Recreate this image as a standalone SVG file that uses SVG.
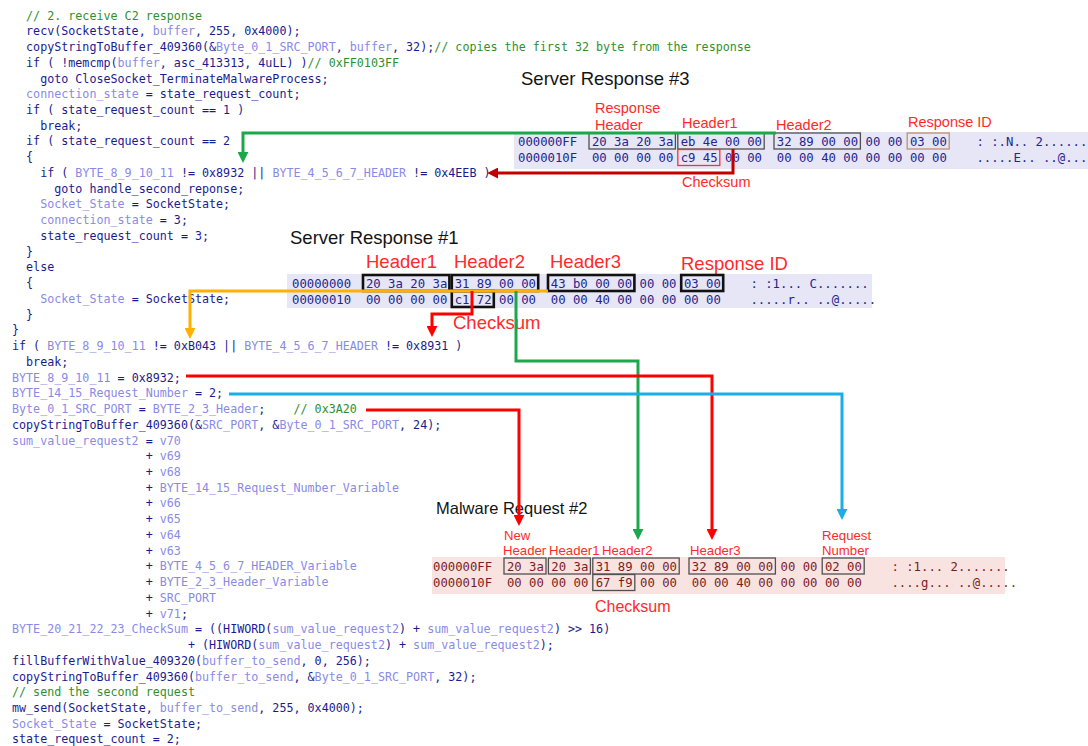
<svg xmlns="http://www.w3.org/2000/svg" width="1088" height="746" viewBox="0 0 1088 746">
<style>
  .code { font-family: "DejaVu Sans Mono", "Liberation Mono", monospace; font-size: 11.7px; fill: #1b1b8f; white-space: pre; }
  .v { fill: #8a8ae6; }
  .c { fill: #2f8f2f; }
  .hex { font-family: "DejaVu Sans Mono", "Liberation Mono", monospace; font-size: 12.29px; white-space: pre; }
  .hb { fill: #25258c; }
  .hm { fill: #7d1c1c; }
  .title { font-family: "Liberation Sans", Arial, sans-serif; fill: #141414; }
  .lbl { font-family: "Liberation Sans", Arial, sans-serif; fill: #ff2a2a; }
  .band-b { fill: #e6e6f6; }
  .band-m { fill: #f8e3e1; }
  .box-g { fill: none; stroke: #505050; stroke-width: 1.3; }
  .box-k { fill: none; stroke: #111111; stroke-width: 2.6; }
  .conn { fill: none; stroke-width: 3; }
</style>
<defs>
  <marker id="ah-green" viewBox="0 0 10 10" refX="1" refY="5" markerWidth="11" markerHeight="11" markerUnits="userSpaceOnUse" orient="auto"><path d="M0,0 L10,5 L0,10 z" fill="#1ca84a"/></marker>
  <marker id="ah-darkred" viewBox="0 0 10 10" refX="1" refY="5" markerWidth="11" markerHeight="11" markerUnits="userSpaceOnUse" orient="auto"><path d="M0,0 L10,5 L0,10 z" fill="#c00000"/></marker>
  <marker id="ah-orange" viewBox="0 0 10 10" refX="1" refY="5" markerWidth="11" markerHeight="11" markerUnits="userSpaceOnUse" orient="auto"><path d="M0,0 L10,5 L0,10 z" fill="#ffb000"/></marker>
  <marker id="ah-red" viewBox="0 0 10 10" refX="1" refY="5" markerWidth="11" markerHeight="11" markerUnits="userSpaceOnUse" orient="auto"><path d="M0,0 L10,5 L0,10 z" fill="#ff0000"/></marker>
  <marker id="ah-blue" viewBox="0 0 10 10" refX="1" refY="5" markerWidth="11" markerHeight="11" markerUnits="userSpaceOnUse" orient="auto"><path d="M0,0 L10,5 L0,10 z" fill="#1aaee6"/></marker>
</defs>
<rect width="1088" height="746" fill="#ffffff"/>

<!-- decompiled code listing -->
<g id="code" xml:space="preserve">
<text class="code" x="12" y="19.5">  <tspan class="c">// 2. receive C2 response</tspan></text>
<text class="code" x="12" y="35.2">  recv(SocketState, <tspan class="v">buffer</tspan>, 255, 0x4000);</text>
<text class="code" x="12" y="51">  copyStringToBuffer_409360(&amp;<tspan class="v">Byte_0_1_SRC_PORT</tspan>, <tspan class="v">buffer</tspan>, 32);<tspan class="c">// copies the first 32 byte from the response</tspan></text>
<text class="code" x="12" y="66.7">  if ( !memcmp(<tspan class="v">buffer</tspan>, asc_413313, 4uLL) )<tspan class="c">// 0xFF0103FF</tspan></text>
<text class="code" x="12" y="82.5">    goto CloseSocket_TerminateMalwareProcess;</text>
<text class="code" x="12" y="98.2">  <tspan class="v">connection_state</tspan> = state_request_count;</text>
<text class="code" x="12" y="113.9">  if ( state_request_count == 1 )</text>
<text class="code" x="12" y="129.7">    break;</text>
<text class="code" x="12" y="145.4">  if ( state_request_count == 2</text>
<text class="code" x="12" y="161.2">  {</text>
<text class="code" x="12" y="176.9">    if ( <tspan class="v">BYTE_8_9_10_11</tspan> != 0x8932 || <tspan class="v">BYTE_4_5_6_7_HEADER</tspan> != 0x4EEB )</text>
<text class="code" x="12" y="192.6">      goto handle_second_reponse;</text>
<text class="code" x="12" y="208.4">    <tspan class="v">Socket_State</tspan> = SocketState;</text>
<text class="code" x="12" y="224.1">    <tspan class="v">connection_state</tspan> = 3;</text>
<text class="code" x="12" y="239.9">    state_request_count = 3;</text>
<text class="code" x="12" y="255.6">  }</text>
<text class="code" x="12" y="271.3">  else</text>
<text class="code" x="12" y="287.1">  {</text>
<text class="code" x="12" y="302.8">    <tspan class="v">Socket_State</tspan> = SocketState;</text>
<text class="code" x="12" y="318.6">  }</text>
<text class="code" x="12" y="334.3">}</text>
<text class="code" x="12" y="350">if ( <tspan class="v">BYTE_8_9_10_11</tspan> != 0xB043 || <tspan class="v">BYTE_4_5_6_7_HEADER</tspan> != 0x8931 )</text>
<text class="code" x="12" y="365.8">  break;</text>
<text class="code" x="12" y="381.5"><tspan class="v">BYTE_8_9_10_11</tspan> = 0x8932;</text>
<text class="code" x="12" y="397.3"><tspan class="v">BYTE_14_15_Request_Number</tspan> = 2;</text>
<text class="code" x="12" y="413"><tspan class="v">Byte_0_1_SRC_PORT</tspan> = <tspan class="v">BYTE_2_3_Header</tspan>;    <tspan class="c">// 0x3A20</tspan></text>
<text class="code" x="12" y="428.7">copyStringToBuffer_409360(&amp;<tspan class="v">SRC_PORT</tspan>, &amp;<tspan class="v">Byte_0_1_SRC_PORT</tspan>, 24);</text>
<text class="code" x="12" y="444.5"><tspan class="v">sum_value_request2</tspan> = <tspan class="v">v70</tspan></text>
<text class="code" x="12" y="460.2">                   + <tspan class="v">v69</tspan></text>
<text class="code" x="12" y="476">                   + <tspan class="v">v68</tspan></text>
<text class="code" x="12" y="491.7">                   + <tspan class="v">BYTE_14_15_Request_Number_Variable</tspan></text>
<text class="code" x="12" y="507.4">                   + <tspan class="v">v66</tspan></text>
<text class="code" x="12" y="523.2">                   + <tspan class="v">v65</tspan></text>
<text class="code" x="12" y="538.9">                   + <tspan class="v">v64</tspan></text>
<text class="code" x="12" y="554.7">                   + <tspan class="v">v63</tspan></text>
<text class="code" x="12" y="570.4">                   + <tspan class="v">BYTE_4_5_6_7_HEADER_Variable</tspan></text>
<text class="code" x="12" y="586.1">                   + <tspan class="v">BYTE_2_3_Header_Variable</tspan></text>
<text class="code" x="12" y="601.9">                   + <tspan class="v">SRC_PORT</tspan></text>
<text class="code" x="12" y="617.6">                   + <tspan class="v">v71</tspan>;</text>
<text class="code" x="12" y="633.4"><tspan class="v">BYTE_20_21_22_23_CheckSum</tspan> = ((HIWORD(<tspan class="v">sum_value_request2</tspan>) + <tspan class="v">sum_value_request2</tspan>) &gt;&gt; 16)</text>
<text class="code" x="12" y="649.1">                         + (HIWORD(<tspan class="v">sum_value_request2</tspan>) + <tspan class="v">sum_value_request2</tspan>);</text>
<text class="code" x="12" y="664.8">fillBufferWithValue_409320(<tspan class="v">buffer_to_send</tspan>, 0, 256);</text>
<text class="code" x="12" y="680.6">copyStringToBuffer_409360(<tspan class="v">buffer_to_send</tspan>, &amp;<tspan class="v">Byte_0_1_SRC_PORT</tspan>, 32);</text>
<text class="code" x="12" y="696.3"><tspan class="c">// send the second request</tspan></text>
<text class="code" x="12" y="712.1">mw_send(SocketState, <tspan class="v">buffer_to_send</tspan>, 255, 0x4000);</text>
<text class="code" x="12" y="727.8"><tspan class="v">Socket_State</tspan> = SocketState;</text>
<text class="code" x="12" y="743">state_request_count = 2;</text>
</g>

<!-- hex dump: third server response -->
<g id="server-response-3" xml:space="preserve">
  <text class="title" x="521" y="85" font-size="18.5">Server Response #3</text>
  <text class="lbl" x="595" y="113" font-size="14.5">Response</text>
  <text class="lbl" x="595" y="130" font-size="14.5">Header</text>
  <text class="lbl" x="682" y="128" font-size="14.5">Header1</text>
  <text class="lbl" x="776" y="130" font-size="14.5">Header2</text>
  <text class="lbl" x="908" y="127" font-size="14.5">Response ID</text>
  <rect class="band-b" x="514" y="132" width="574" height="37"/>
  <text class="hex hb" x="518" y="145.5">000000FF  20 3a 20 3a eb 4e 00 00  32 89 00 00 00 00 03 00    : :.N.. 2.......</text>
  <text class="hex hb" x="518" y="161.5">0000010F  00 00 00 00 c9 45 00 00  00 00 40 00 00 00 00 00    .....E.. ..@.....</text>
  <rect class="box-g" x="589" y="133" width="86.4" height="16"/>
  <rect class="box-g" x="677.8" y="133" width="86.4" height="16"/>
  <rect class="box-g" x="774" y="133" width="86.4" height="16"/>
  <rect x="907.2" y="133" width="42" height="16" fill="none" stroke="#c09070" stroke-width="1.3"/>
  <rect x="677.8" y="149.5" width="42" height="16" fill="none" stroke="#ff3030" stroke-width="1.3"/>
  <text class="lbl" x="682" y="187" font-size="14.5">Checksum</text>
</g>

<!-- hex dump: first server response -->
<g id="server-response-1" xml:space="preserve">
  <text class="title" x="290" y="244" font-size="18.5">Server Response #1</text>
  <text class="lbl" x="366" y="268" font-size="18.5">Header1</text>
  <text class="lbl" x="454" y="268" font-size="18.5">Header2</text>
  <text class="lbl" x="550" y="268" font-size="18.5">Header3</text>
  <text class="lbl" x="681" y="270" font-size="18.5">Response ID</text>
  <rect class="band-b" x="287" y="274" width="585" height="34"/>
  <text class="hex hb" x="292" y="287.5">00000000  20 3a 20 3a 31 89 00 00  43 b0 00 00 00 00 03 00    : :1... C.......</text>
  <text class="hex hb" x="292" y="303.5">00000010  00 00 00 00 c1 72 00 00  00 00 40 00 00 00 00 00    .....r.. ..@.....</text>
  <rect class="box-k" x="363" y="275" width="86.4" height="16"/>
  <rect class="box-k" x="451.8" y="275" width="86.4" height="16"/>
  <rect class="box-k" x="548" y="275" width="86.4" height="16"/>
  <rect class="box-k" x="681.2" y="275" width="42" height="16"/>
  <rect class="box-k" x="451.8" y="291" width="42" height="16"/>
  <text class="lbl" x="453" y="329" font-size="18.5">Checksum</text>
</g>

<!-- hex dump: second malware request -->
<g id="malware-request-2" xml:space="preserve">
  <text class="title" x="436" y="514" font-size="16.5">Malware Request #2</text>
  <text class="lbl" x="504" y="540" font-size="13.2">New</text>
  <text class="lbl" x="503" y="555" font-size="13.2">Header</text>
  <text class="lbl" x="549" y="555" font-size="13.2">Header1</text>
  <text class="lbl" x="602" y="555" font-size="13.2">Header2</text>
  <text class="lbl" x="690" y="555" font-size="13.2">Header3</text>
  <text class="lbl" x="822" y="540" font-size="13.2">Request</text>
  <text class="lbl" x="822" y="555" font-size="13.2">Number</text>
  <rect class="band-m" x="432" y="557" width="573" height="37"/>
  <text class="hex hm" x="433" y="570.5">000000FF  20 3a 20 3a 31 89 00 00  32 89 00 00 00 00 02 00    : :1... 2.......</text>
  <text class="hex hm" x="433" y="586.5">0000010F  00 00 00 00 67 f9 00 00  00 00 40 00 00 00 00 00    ....g... ..@.....</text>
  <rect class="box-g" x="504" y="558" width="42" height="16"/>
  <rect class="box-g" x="548.4" y="558" width="42" height="16"/>
  <rect class="box-g" x="592.8" y="558" width="86.4" height="16"/>
  <rect class="box-g" x="689" y="558" width="86.4" height="16"/>
  <rect class="box-g" x="822.2" y="558" width="42" height="16"/>
  <rect class="box-g" x="592.8" y="574.5" width="42" height="16"/>
  <text class="lbl" x="595" y="612" font-size="16">Checksum</text>
</g>

<!-- connectors between code constants and dump fields -->
<g id="connectors">
  <path class="conn" stroke="#1ca84a" d="M776,133 H243 V153" marker-end="url(#ah-green)"/>
  <path class="conn" stroke="#c00000" d="M733,149 V173 H497" marker-end="url(#ah-darkred)"/>
  <path class="conn" stroke="#ffb000" d="M548,291 H190 V329" marker-end="url(#ah-orange)"/>
  <path class="conn" stroke="#ff0000" d="M472,291 V314 H432 V327" marker-end="url(#ah-red)"/>
  <path class="conn" stroke="#1ca84a" d="M516,291 V361 H638 V530" marker-end="url(#ah-green)"/>
  <path class="conn" stroke="#ff0000" d="M186,376 H712 V530" marker-end="url(#ah-red)"/>
  <path class="conn" stroke="#1aaee6" d="M229,394 H842 V510" marker-end="url(#ah-blue)"/>
  <path class="conn" stroke="#ff0000" d="M366,410 H519 V516" marker-end="url(#ah-red)"/>
</g>
</svg>
